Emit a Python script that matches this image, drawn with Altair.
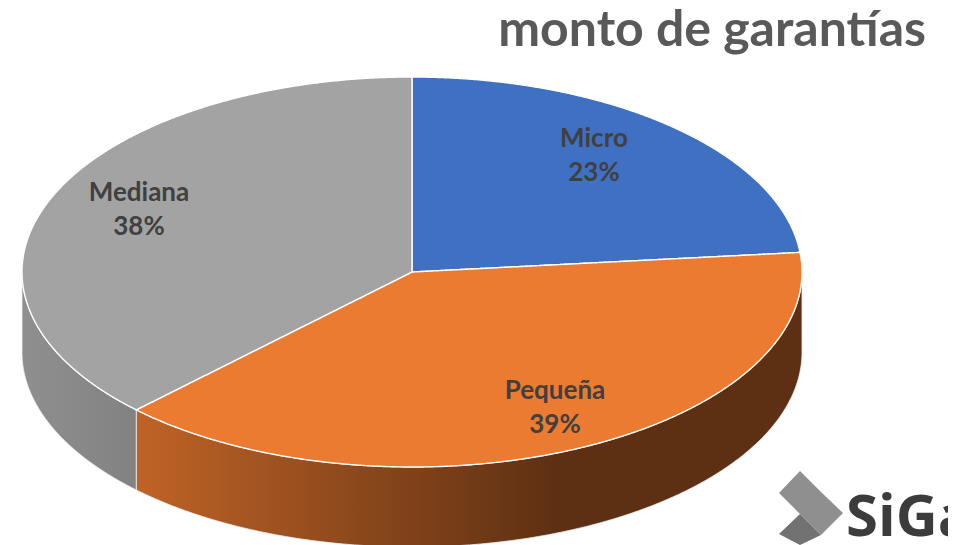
import numpy as np
import pandas as pd
import altair as alt

categories = ["Micro", "Pequeña", "Mediana"]
shares = [23.4, 39.1, 37.5]
slice_colors = ["#4070C2", "#EB7B30", "#A3A3A3"]
title_text = "monto de garantías"
logo_text = "SiGa"

CX, CY, RX, RY, DEPTH = 412, 272, 390, 195, 80
W, H = 940, 537
X_DOMAIN = [8, 8 + W]
Y_DOMAIN = [8 + H, 8]

xs = alt.X("x:Q", scale=alt.Scale(domain=X_DOMAIN, nice=False, zero=False), axis=None)
ys = alt.Y("y:Q", scale=alt.Scale(domain=Y_DOMAIN, nice=False, zero=False), axis=None)
y2s = alt.Y2("y2:Q")


def rim(frac):
    t = np.asarray(frac) * 2 * np.pi
    return CX + RX * np.sin(t), CY - RY * np.cos(t)


def span_table(px, py):
    """Vertical extent of a closed outline at a run of x positions."""
    grid = np.unique(np.concatenate([px, np.linspace(px.min(), px.max(), 160)]))
    rows = []
    qx, qy = np.r_[px[1:], px[0]], np.r_[py[1:], py[0]]
    for g in grid:
        hits = []
        for a, b, c, d in zip(px, py, qx, qy):
            if min(a, c) <= g <= max(a, c):
                if a == c:
                    hits += [b, d]
                else:
                    hits.append(b + (d - b) * (g - a) / (c - a))
        if hits:
            rows.append({"x": g, "y": min(hits), "y2": max(hits)})
    return pd.DataFrame(rows)


edges = np.cumsum([0] + shares) / sum(shares)


def wedge_table(i):
    ex, ey = rim(np.linspace(edges[i], edges[i + 1], 400))
    return span_table(np.r_[CX, ex], np.r_[CY, ey])


def wall_table(f0, f1):
    ex, ey = rim(np.linspace(f0, f1, 400))
    order = np.argsort(ex)
    return pd.DataFrame({"x": ex[order], "y": ey[order], "y2": ey[order] + DEPTH})


orange_wall_fill = alt.Gradient(
    gradient="linear", x1=0, x2=1, y1=0, y2=0,
    stops=[
        alt.GradientStop(offset=0, color="#BF6326"),
        alt.GradientStop(offset=0.63, color="#5E3013"),
        alt.GradientStop(offset=1, color="#5E3013"),
    ],
)
gray_wall_fill = alt.Gradient(
    gradient="linear", x1=0, x2=1, y1=0, y2=0,
    stops=[
        alt.GradientStop(offset=0, color="#8F8F8F"),
        alt.GradientStop(offset=1, color="#828282"),
    ],
)

layers = []
# side walls
layers.append(
    alt.Chart(wall_table(0.25, edges[2])).mark_area(color=orange_wall_fill, stroke="#F0F0F0", strokeWidth=0.8)
    .encode(x=xs, y=ys, y2=y2s)
)
layers.append(
    alt.Chart(wall_table(edges[2], 0.75)).mark_area(color=gray_wall_fill, stroke="#F0F0F0", strokeWidth=0.8)
    .encode(x=xs, y=ys, y2=y2s)
)
# top faces
for i, col in enumerate(slice_colors):
    layers.append(
        alt.Chart(wedge_table(i)).mark_area(color=col, stroke="white", strokeWidth=1.4)
        .encode(x=xs, y=ys, y2=y2s)
    )

# slice labels
label_x = [594, 555, 139]
label_y = [156, 408, 210]
rows = []
for c, s, lx, ly in zip(categories, shares, label_x, label_y):
    rows.append({"x": lx, "y": ly - 17, "t": c})
    rows.append({"x": lx, "y": ly + 17, "t": f"{round(s)}%"})
layers.append(
    alt.Chart(pd.DataFrame(rows))
    .mark_text(font="Lato", fontWeight="bold", fontSize=26, color="#404040", align="center", baseline="middle")
    .encode(x=xs, y=ys, text="t:N")
)

# title
layers.append(
    alt.Chart(pd.DataFrame({"x": [926], "y": [46], "t": [title_text]}))
    .mark_text(font="Lato", fontWeight="bold", fontSize=50, color="#595959", align="right", baseline="alphabetic")
    .encode(x=xs, y=ys, text="t:N")
)

# logo
logo_top = pd.DataFrame({"x": [779, 800, 821, 843], "y": [493, 471, 492, 513], "y2": [493, 514, 535, 513]})
logo_low = pd.DataFrame({"x": [779, 800, 821], "y": [534, 514, 535], "y2": [534, 545, 535]})
layers.append(alt.Chart(logo_top).mark_area(color="#8F8F8F").encode(x=xs, y=ys, y2=y2s))
layers.append(alt.Chart(logo_low).mark_area(color="#727272").encode(x=xs, y=ys, y2=y2s))
layers.append(
    alt.Chart(pd.DataFrame({"x": [846], "y": [536], "t": [logo_text]}))
    .mark_text(font="Open Sans", fontWeight="bold", fontSize=58, color="#3C3C3C", align="left", baseline="alphabetic")
    .encode(x=xs, y=ys, text="t:N")
)

chart = (
    alt.layer(*layers)
    .properties(width=W, height=H, padding=0, background="white",
                autosize=alt.AutoSizeParams(type="none"))
    .configure_view(stroke=None)
)
chart.save("out.html", embed_options={"renderer": "svg", "actions": False})
